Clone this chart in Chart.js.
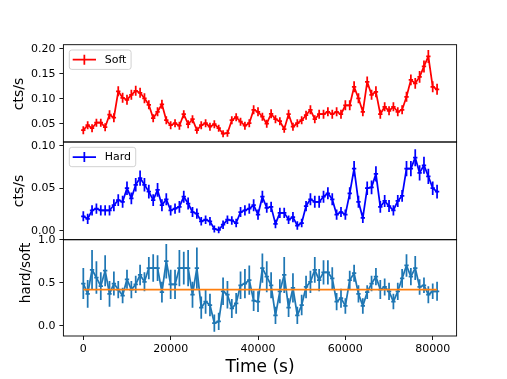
<!DOCTYPE html>
<html><head><meta charset="utf-8">
<script src="https://cdn.jsdelivr.net/npm/chart.js@4/dist/chart.umd.min.js"></script>
<style>
html,body{margin:0;padding:0;background:#fff;}
#wrap{position:relative;width:507px;height:379px;background:#fff;}
#wrap canvas{position:absolute;left:0;top:0;}
</style></head><body>
<div id="wrap">
<canvas id="c1" width="507" height="379"></canvas>
<canvas id="c2" width="507" height="379"></canvas>
<canvas id="c3" width="507" height="379"></canvas>
</div>
<script>
// ---------------- data ----------------
const times = [0,1000,2000,3000,4000,5000,6000,7000,8000,9000,
  10000,11000,12000,13000,14000,15000,16000,17000,18000,19000,
  20000,21000,22000,23000,24000,25000,26000,27000,28000,29000,
  30000,31000,32000,33000,34000,35000,36000,37000,38000,39000,
  40000,41000,42000,43000,44000,45000,46000,47000,48000,49000,
  50000,51000,52000,53000,54000,55000,56000,57000,58000,59000,
  60000,61000,62000,63000,64000,65000,66000,67000,68000,69000,
  70000,71000,72000,73000,74000,75000,76000,77000,78000,79000,
  80000,81000];
const binHalfWidth = 500;

const soft = [0.037,0.047,0.041,0.052,0.052,0.043,0.068,0.062,0.115,0.102,
  0.098,0.108,0.116,0.112,0.101,0.088,0.061,0.074,0.089,0.057,
  0.047,0.051,0.046,0.069,0.049,0.059,0.037,0.047,0.051,0.044,
  0.049,0.041,0.030,0.031,0.057,0.063,0.054,0.046,0.051,0.078,
  0.074,0.064,0.050,0.070,0.059,0.055,0.039,0.069,0.044,0.051,
  0.057,0.067,0.078,0.059,0.069,0.069,0.074,0.069,0.074,0.069,
  0.087,0.087,0.124,0.101,0.074,0.134,0.108,0.114,0.069,0.084,
  0.076,0.084,0.074,0.078,0.104,0.138,0.131,0.144,0.165,0.185,
  0.124,0.119];
const softErr = [0.008,0.008,0.008,0.008,0.008,0.008,0.009,0.009,0.010,0.010,
  0.010,0.010,0.010,0.010,0.010,0.009,0.008,0.009,0.009,0.008,
  0.008,0.008,0.008,0.008,0.008,0.008,0.007,0.008,0.008,0.008,
  0.008,0.007,0.007,0.007,0.008,0.008,0.008,0.008,0.008,0.009,
  0.009,0.008,0.008,0.009,0.008,0.008,0.007,0.009,0.008,0.008,
  0.008,0.009,0.009,0.008,0.009,0.009,0.009,0.009,0.009,0.009,
  0.010,0.010,0.011,0.010,0.009,0.011,0.010,0.011,0.009,0.009,
  0.009,0.009,0.009,0.009,0.010,0.011,0.011,0.012,0.012,0.013,
  0.011,0.011];

const hard = [0.017,0.014,0.024,0.026,0.024,0.024,0.024,0.030,0.036,0.034,
  0.050,0.038,0.054,0.062,0.054,0.046,0.036,0.048,0.030,0.037,
  0.024,0.026,0.028,0.040,0.032,0.022,0.020,0.011,0.013,0.011,
  0.002,0.001,0.007,0.013,0.012,0.009,0.022,0.024,0.026,0.030,
  0.019,0.040,0.027,0.028,0.008,0.021,0.021,0.013,0.016,0.006,
  0.009,0.029,0.037,0.034,0.034,0.040,0.044,0.037,0.019,0.022,
  0.019,0.044,0.073,0.034,0.015,0.050,0.051,0.067,0.028,0.035,
  0.029,0.024,0.035,0.041,0.073,0.073,0.086,0.068,0.077,0.064,
  0.050,0.046];
const hardErr = [0.006,0.006,0.006,0.006,0.006,0.006,0.006,0.007,0.007,0.007,
  0.008,0.007,0.008,0.009,0.008,0.008,0.007,0.008,0.007,0.007,
  0.006,0.006,0.007,0.007,0.007,0.006,0.006,0.005,0.005,0.005,
  0.004,0.004,0.005,0.005,0.005,0.005,0.006,0.006,0.006,0.007,
  0.006,0.007,0.006,0.006,0.005,0.006,0.006,0.005,0.006,0.005,
  0.005,0.006,0.007,0.007,0.007,0.007,0.007,0.007,0.006,0.006,
  0.006,0.007,0.009,0.007,0.006,0.008,0.008,0.009,0.007,0.007,
  0.007,0.006,0.007,0.007,0.009,0.009,0.010,0.009,0.010,0.009,
  0.008,0.008];

const ratio = [0.49,0.37,0.65,0.56,0.46,0.64,0.37,0.49,0.42,0.35,
  0.54,0.42,0.48,0.59,0.51,0.67,0.67,0.67,0.39,0.75,
  0.48,0.48,0.67,0.67,0.67,0.36,0.67,0.21,0.28,0.24,
  0.03,0.05,0.40,0.36,0.20,0.26,0.47,0.49,0.53,0.29,
  0.28,0.67,0.57,0.47,0.12,0.40,0.59,0.21,0.44,0.12,
  0.24,0.45,0.51,0.65,0.53,0.62,0.62,0.55,0.28,0.32,
  0.23,0.53,0.61,0.37,0.23,0.39,0.49,0.57,0.42,0.45,
  0.40,0.28,0.40,0.55,0.70,0.57,0.67,0.45,0.47,0.36,
  0.40,0.40];
const ratioErr = [0.18,0.16,0.23,0.19,0.16,0.18,0.15,0.14,0.10,0.09,
  0.11,0.10,0.10,0.12,0.11,0.13,0.16,0.15,0.12,0.20,
  0.17,0.17,0.21,0.19,0.21,0.15,0.24,0.13,0.14,0.13,
  0.10,0.10,0.16,0.16,0.11,0.12,0.16,0.17,0.17,0.12,
  0.12,0.17,0.18,0.15,0.10,0.14,0.21,0.11,0.17,0.10,
  0.12,0.13,0.13,0.15,0.13,0.14,0.14,0.13,0.10,0.11,
  0.09,0.11,0.10,0.10,0.09,0.08,0.09,0.10,0.11,0.10,
  0.10,0.09,0.10,0.11,0.13,0.10,0.14,0.09,0.09,0.10,
  0.09,0.11];
const meanRatio = 0.42;

const xTicks = [0,20000,40000,60000,80000];
const xTickLabels = ['0','20000','40000','60000','80000'];
const softTicks = [0.05,0.10,0.15,0.20];
const softTickLabels = ['0.05','0.10','0.15','0.20'];
const hardTicks = [0.00,0.05,0.10];
const hardTickLabels = ['0.00','0.05','0.10'];
const ratioTicks = [0.0,0.5,1.0];
const ratioTickLabels = ['0.0','0.5','1.0'];

// ---------------- plugins ----------------
Chart.defaults.font.family = '"DejaVu Sans", sans-serif';
Chart.defaults.font.size = 11;
Chart.defaults.color = '#000';

const errorBars = {
  id: 'errorBars',
  beforeDatasetsDraw(chart) {
    const ctx = chart.ctx, xs = chart.scales.x, ys = chart.scales.y, a = chart.chartArea;
    ctx.save();
    ctx.beginPath(); ctx.rect(a.left, a.top, a.right - a.left, a.bottom - a.top); ctx.clip();
    chart.data.datasets.forEach(ds => {
      if (!ds.errY) return;
      ctx.strokeStyle = ds.borderColor; ctx.lineWidth = ds.borderWidth;
      ctx.beginPath();
      ds.data.forEach((p, i) => {
        const px = xs.getPixelForValue(p.x), py = ys.getPixelForValue(p.y);
        ctx.moveTo(px, ys.getPixelForValue(p.y - ds.errY[i]));
        ctx.lineTo(px, ys.getPixelForValue(p.y + ds.errY[i]));
        ctx.moveTo(xs.getPixelForValue(p.x - ds.errX), py);
        ctx.lineTo(xs.getPixelForValue(p.x + ds.errX), py);
      });
      ctx.stroke();
    });
    ctx.restore();
  }
};
const frame = {
  id: 'frame',
  afterDraw(chart) {
    const ctx = chart.ctx, a = chart.chartArea;
    ctx.save(); ctx.strokeStyle = '#000'; ctx.lineWidth = 0.9;
    ctx.strokeRect(a.left, a.top, a.right - a.left, a.bottom - a.top);
    ctx.restore();
  }
};
const yLabel = {
  id: 'yLabel',
  afterDraw(chart, args, o) {
    if (!o || !o.text) return;
    const ctx = chart.ctx;
    ctx.save();
    ctx.font = o.size + 'px "DejaVu Sans"';
    ctx.fillStyle = '#000'; ctx.textAlign = 'center'; ctx.textBaseline = 'middle';
    ctx.translate(o.x, o.y); ctx.rotate(-Math.PI / 2);
    ctx.fillText(o.text, 0, 0);
    ctx.restore();
  }
};
const mplLegend = {
  id: 'mplLegend',
  afterDraw(chart, args, o) {
    if (!o || !o.show) return;
    const ctx = chart.ctx, ds = chart.data.datasets[o.datasetIndex || 0];
    ctx.save();
    ctx.font = '11px "DejaVu Sans"';
    const tw = ctx.measureText(ds.label).width;
    const x0 = o.x, y0 = o.y, h = o.h;
    const w = o.padL + o.handleLen + o.gap + tw + o.padR;
    const r = 2.5;
    ctx.beginPath();
    ctx.moveTo(x0 + r, y0); ctx.lineTo(x0 + w - r, y0); ctx.arcTo(x0 + w, y0, x0 + w, y0 + r, r);
    ctx.lineTo(x0 + w, y0 + h - r); ctx.arcTo(x0 + w, y0 + h, x0 + w - r, y0 + h, r);
    ctx.lineTo(x0 + r, y0 + h); ctx.arcTo(x0, y0 + h, x0, y0 + h - r, r);
    ctx.lineTo(x0, y0 + r); ctx.arcTo(x0, y0, x0 + r, y0, r); ctx.closePath();
    ctx.fillStyle = 'rgba(255,255,255,0.8)'; ctx.fill();
    ctx.strokeStyle = '#cccccc'; ctx.lineWidth = 0.9; ctx.stroke();
    const cy = y0 + h / 2, hx0 = x0 + o.padL, hx1 = hx0 + o.handleLen, mx = (hx0 + hx1) / 2;
    ctx.strokeStyle = ds.borderColor; ctx.lineWidth = ds.borderWidth;
    ctx.beginPath(); ctx.moveTo(hx0, cy); ctx.lineTo(hx1, cy);
    ctx.moveTo(mx, cy - o.bar); ctx.lineTo(mx, cy + o.bar); ctx.stroke();
    ctx.fillStyle = '#000'; ctx.textBaseline = 'middle'; ctx.textAlign = 'left';
    ctx.fillText(ds.label, hx1 + o.gap, cy + 0.5);
    ctx.restore();
  }
};

// ---------------- layout helpers ----------------
const X_MIN = -4560, X_MAX = 85470;
const PLOT_LEFT = 63.4, PLOT_RIGHT_PAD = 507 - 456.6;
const LINE_W = 1.75;
const gridOpts = { display: true, drawOnChartArea: false, drawTicks: true, tickLength: 4, color: '#000', lineWidth: 0.9 };

function yAxis(min, max, ticks, labels) {
  return {
    type: 'linear', position: 'left', min: min, max: max,
    afterFit: s => { s.width = PLOT_LEFT - 4; },
    afterBuildTicks: s => { s.ticks = ticks.map(v => ({ value: v })); },
    ticks: { callback: (v, i) => labels[i], padding: 4, color: '#000', font: { size: 11 } },
    grid: gridOpts, border: { display: false }
  };
}
function xAxisHidden() {
  return { type: 'linear', min: X_MIN, max: X_MAX, display: false };
}
function series(label, vals, errs, color) {
  return {
    label: label, data: times.map((t, i) => ({ x: t, y: vals[i] })),
    errY: errs, errX: binHalfWidth,
    borderColor: color, backgroundColor: color, borderWidth: LINE_W,
    pointRadius: 0, pointHoverRadius: 0, fill: false, tension: 0, borderJoinStyle: 'round'
  };
}
function baseOptions(top, bottom, scales, legend, label) {
  return {
    responsive: false, animation: false, devicePixelRatio: 1, events: [],
    layout: { padding: { left: 4, right: PLOT_RIGHT_PAD, top: top, bottom: bottom } },
    scales: scales,
    plugins: { legend: { display: false }, tooltip: { enabled: false },
      mplLegend: legend || { show: false }, yLabel: label }
  };
}
const plugins = [errorBars, frame, mplLegend, yLabel];
const legendCommon = { padL: 3.4, handleLen: 23.3, gap: 8.7, padR: 4.7, h: 19.4, bar: 5 };

// ---------------- Soft ----------------
new Chart(document.getElementById('c1'), {
  type: 'line',
  data: { datasets: [series('Soft', soft, softErr, '#ff0000')] },
  options: baseOptions(44.7, 379 - 142,
    { x: xAxisHidden(), y: yAxis(0.0133, 0.2086, softTicks, softTickLabels) },
    Object.assign({ show: true, x: 69.3, y: 50 }, legendCommon),
    { text: 'cts/s', x: 19.5, y: 94, size: 14 }),
  plugins: plugins
});

// ---------------- Hard ----------------
new Chart(document.getElementById('c2'), {
  type: 'line',
  data: { datasets: [series('Hard', hard, hardErr, '#0000ff')] },
  options: baseOptions(142, 379 - 239.7,
    { x: xAxisHidden(), y: yAxis(-0.0106, 0.1044, hardTicks, hardTickLabels) },
    Object.assign({ show: true, x: 69.3, y: 147.3 }, legendCommon),
    { text: 'cts/s', x: 19.5, y: 191, size: 14 }),
  plugins: plugins
});

// ---------------- Ratio ----------------
const meanLine = {
  label: 'mean', data: [{ x: times[0], y: meanRatio }, { x: times[times.length - 1], y: meanRatio }],
  borderColor: '#ff7f0e', borderWidth: LINE_W, pointRadius: 0, fill: false
};
new Chart(document.getElementById('c3'), {
  type: 'line',
  data: { datasets: [meanLine, series('hard/soft', ratio, ratioErr, '#1f77b4')] },
  options: baseOptions(239.7, 1.5, {
    x: {
      type: 'linear', position: 'bottom', min: X_MIN, max: X_MAX,
      afterFit: s => { s.height = 41.5; },
      afterBuildTicks: s => { s.ticks = xTicks.map(v => ({ value: v })); },
      ticks: { callback: (v, i) => xTickLabels[i], maxRotation: 0, autoSkip: false, padding: 3, color: '#000', font: { size: 11 } },
      grid: gridOpts, border: { display: false },
      title: { display: true, text: 'Time (s)', color: '#000', font: { size: 17 }, padding: 0 }
    },
    y: yAxis(-0.12, 1.0, ratioTicks, ratioTickLabels)
  }, null, { text: 'hard/soft', x: 26, y: 273, size: 13.5 }),
  plugins: plugins
});
</script>
</body></html>
